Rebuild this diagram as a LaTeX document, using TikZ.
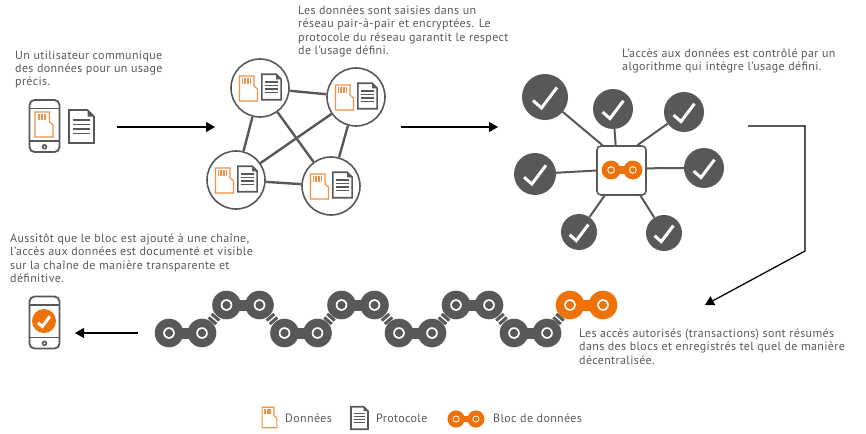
\documentclass[tikz,border=0pt]{standalone}
\usepackage{fontspec}
\setmainfont[LetterSpace=3]{PT Sans}
\usetikzlibrary{arrows.meta}
\definecolor{ink}{HTML}{58585A}
\definecolor{txt}{HTML}{58595B}
\definecolor{org}{HTML}{EE7207}
\definecolor{orgl}{HTML}{F29145}
\tikzset{
  x=1pt,y=-1pt,
  caption/.style={anchor=north west,align=left,inner sep=0pt,text=txt,font=\fontsize{12}{13.4}\selectfont},
  legend/.style={anchor=west,inner sep=0pt,text=txt,font=\fontsize{12}{13.4}\selectfont},
  flow/.style={line width=1.3pt,black,-{Triangle[length=9pt,width=10pt]}},
  netnode/.style={circle,draw=ink,line width=1.6pt,fill=white,inner sep=0pt,minimum size=#1pt},
  netlink/.style={draw=ink,line width=2.4pt},
  spoke/.style={draw=ink,line width=2pt},
  chk/.style={circle,fill=ink,inner sep=0pt,minimum size=#1pt},
  hubbox/.style={rectangle,rounded corners=4pt,draw=ink,line width=1.6pt,fill=white,inner sep=0pt,minimum size=49pt},
  sdcard/.pic={
    \draw[orgl,line width=1.2pt,line join=miter] (-9,-12.5)--(5.5,-12.5)--(5.5,-2.5)--(9,0.5)--(9,12.5)--(-9,12.5)--cycle;
    \foreach \s in {-6,-4.5,-3,-1.5,0,1.5}{\draw[orgl,line width=.8pt] (\s,-10.5)--(\s,-4.5);}
  },
  docu/.pic={
    \draw[ink,line width=1.7pt,line join=miter] (-12.5,-16.5)--(6,-16.5)--(12.5,-10)--(12.5,16.5)--(-12.5,16.5)--cycle;
    \fill[ink] (6,-16.5)--(12.5,-10)--(6,-10)--cycle;
    \foreach \s in {-6.5,-2,2.5,7}{\draw[ink,line width=1.3pt] (-8.5,\s)--(8.5,\s);}
  },
  phone/.pic={
    \draw[ink,line width=1.8pt,rounded corners=5pt] (-15,-26) rectangle (15,26);
    \draw[ink,line width=1.8pt] (-15,-17.5)--(15,-17.5) (-15,15)--(15,15);
    \fill[ink] (0,20.8) circle (2.8);
    \fill[white] (0,20.8) circle (1);
  },
  tick/.pic={
    \draw[white,line width=3pt,line join=miter] (-12,3.5)--(-3.5,11)--(12,-9.5);
  },
  block/.pic={
    \fill[pic actions] (-16.5,0) circle (14.3);
    \fill[pic actions] (16.5,0) circle (14.3);
    \fill[pic actions] (-16.5,-5.5) rectangle (16.5,5.5);
    \fill[white] (-16.5,0) circle (5.8) (16.5,0) circle (5.8);
    \fill[pic actions] (-16.5,0) circle (4.1) (16.5,0) circle (4.1);
  },
  linkbars/.pic={
    \fill[ink] (-3.8,-5) rectangle (-.8,5);
    \fill[ink] (.8,-5) rectangle (3.8,5);
  }
}
\begin{document}
\begin{tikzpicture}
\useasboundingbox (0,0) rectangle (866,433);
% captions
\node[caption] (t1) at (15,50.5) {Un utilisateur communique\\des données pour un usage\\précis.};
\node[caption] (t2) at (298,5.5) {Les données sont saisies dans un\\réseau pair-à-pair et encryptées. Le\\protocole du réseau garantit le respect\\de l’usage défini.};
\node[caption] (t3) at (622,48.5) {L’accès aux données est contrôlé par un\\algorithme qui intègre l’usage défini.};
\node[caption] (t4) at (10,233.5) {Aussitôt que le bloc est ajouté à une chaîne,\\l’accès aux données est documenté et visible\\sur la chaîne de manière transparente et\\définitive.};
\node[caption] (t5) at (579,328.5) {Les accès autorisés (transactions) sont résumés\\dans des blocs et enregistrés tel quel de manière\\décentralisée.};
% step 1
\pic at (44.5,126) {phone};
\pic[scale=1] at (44,124.5) {sdcard};
\pic at (81.5,126.5) {docu};
% network
\node[netnode=58] (na) at (260,88) {};
\node[netnode=58] (nb) at (356,97) {};
\node[netnode=58] (nc) at (236,180) {};
\node[netnode=58] (nd) at (331,186) {};
\draw[netlink] (na)--(nb) (na)--(nc) (na)--(nd) (nb)--(nc) (nb)--(nd) (nc)--(nd);
\foreach \n in {na,nb,nc,nd}{
  \pic at ([xshift=-11.5pt,yshift=-.5pt]\n.center) {sdcard};
  \pic[scale=.77] at ([xshift=11.5pt,yshift=1pt]\n.center) {docu};
}
% hub
\node[hubbox] (hub) at (621.5,170.5) {};
\pic[scale=.66] at (622,170) [fill=org] {block};
\foreach \n/\x/\y/\d/\a in {c1/545/97/46/127,c2/613/109/40/103,c3/684/112/40/58,c4/704/168/40/5,c5/535/174/42/180,c6/579/232/36/236,c7/664/233/36/307}{
  \node[chk=\d] (\n) at (\x,\y) {};
  \draw[spoke] (\n)--(hub.\a);
  \pgfmathsetmacro{\sc}{\d/46}
  \pic[scale=\sc] at (\n.center) {tick};
}
% chain
\foreach \x/\y in {185.5/333,243/305,301/333,358/305,415.5/333,472.5/305,530.5/333}{
  \pic[fill=ink] at (\x,\y) {block};
}
\pic[fill=org] at (586.5,305) {block};
\foreach \x/\y/\a in {214/319/49,272/319/-49,329.5/319/49,387/319/-49,444/319/49,501.5/319/-49,558.5/319/49}{
  \pic[rotate=\a] at (\x,\y) {linkbars};
}
% final phone
\pic at (44.5,322.5) {phone};
\node[circle,fill=org,inner sep=0pt,minimum size=24pt] (okc) at (44,321) {};
\pic[scale=.5] at (okc.center) {tick};
% arrows
\coordinate (a1s) at (117,127); \coordinate (a1e) at (215,127);
\coordinate (a2s) at (401,127); \coordinate (a2e) at (498,127);
\coordinate (a3s) at (748,126); \coordinate (a3c) at (805,126); \coordinate (a3d) at (805,251); \coordinate (a3e) at (705,305);
\coordinate (a4s) at (138,333); \coordinate (a4e) at (75,333);
\draw[flow] (a1s)--(a1e);
\draw[flow] (a2s)--(a2e);
\draw[flow,line join=miter] (a3s)--(a3c)--(a3d)--(a3e);
\draw[flow] (a4s)--(a4e);
% legend
\pic[scale=.82] at (269.5,417.5) {sdcard};
\node[legend] (l1) at (285,418) {Données};
\pic[scale=.68] at (359.5,418) {docu};
\node[legend] (l2) at (376,418) {Protocole};
\pic[scale=.6] at (466,419) [fill=org] {block};
\node[legend] (l3) at (493,418) {Bloc de données};
\end{tikzpicture}
\end{document}
